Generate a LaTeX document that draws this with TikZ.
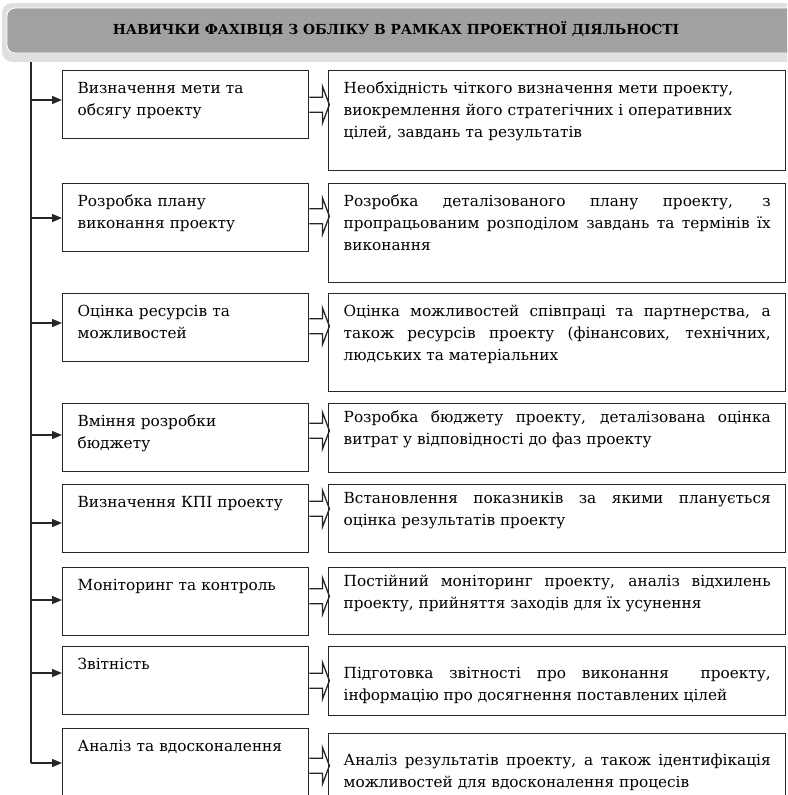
\documentclass[tikz,border=0pt]{standalone}
\usepackage{fontspec}
\setmainfont{DejaVu Serif}
\usetikzlibrary{arrows.meta,calc}
\hyphenpenalty=10000
\exhyphenpenalty=10000
\tikzstyle{lbox}=[draw=black!85, line width=1.4pt, anchor=north west, text width=216pt, align=left, inner xsep=15pt, inner ysep=10pt, text height=13pt, text depth=35pt, font=\fontsize{15.3}{22}\selectfont]
\tikzstyle{rbox}=[draw=black!85, line width=1.4pt, anchor=north west, text width=427pt, align=justify, inner xsep=15pt, inner ysep=10pt, font=\fontsize{15.3}{22}\selectfont]
\tikzstyle{feed}=[-{Triangle[length=10pt,width=8pt]}, line width=1.4pt, black!85]
\tikzstyle{dbl}=[line width=1.3pt, black!85]

\begin{document}
\begin{tikzpicture}[x=1pt,y=-1pt]
\useasboundingbox (0,0) rectangle (787,795);
\clip (0,0) rectangle (787,795);
% title bar
\fill[black!12, rounded corners=10pt] (2,3) rectangle (820,62);
\filldraw[fill=black!37, draw=white, line width=0.8pt, rounded corners=8pt] (7,8) rectangle (815,53);
\node[font=\fontsize{13.8}{16}\selectfont\bfseries] (title) at (396,29) {НАВИЧКИ ФАХІВЦЯ З ОБЛІКУ В РАМКАХ ПРОЕКТНОЇ ДІЯЛЬНОСТІ};
\coordinate (trunk) at (31,62);
\coordinate (foot) at (31,763);
\draw[line width=1.4pt, black!85] (trunk) -- (foot);

% skills
\node[lbox] (l1) at (62,70) {Визначення мети та\\обсягу проекту};
\node[lbox] (l2) at (62,183) {Розробка плану\\виконання проекту};
\node[lbox] (l3) at (62,293) {Оцінка ресурсів та\\можливостей};
\node[lbox] (l4) at (62,403) {Вміння розробки\\бюджету};
\node[lbox] (l5) at (62,484) {Визначення КПІ проекту};
\node[lbox] (l6) at (62,567) {Моніторинг та контроль};
\node[lbox] (l7) at (62,646) {Звітність};
\node[lbox, text depth=70pt] (l8) at (62,728) {Аналіз та вдосконалення};

% descriptions
\node[rbox, align=left, text height=13pt, text depth=67pt] (r1) at (328,70) {Необхідність чіткого визначення мети проекту,\\виокремлення його стратегічних і оперативних\\цілей, завдань та результатів};
\node[rbox, text height=13pt, text depth=66pt] (r2) at (328,183) {Розробка деталізованого плану проекту, з\linebreak пропрацьованим розподілом завдань та термінів їх\linebreak виконання};
\node[rbox, text height=13pt, text depth=65pt] (r3) at (328,293) {Оцінка можливостей співпраці та партнерства, а\linebreak також ресурсів проекту (фінансових, технічних,\linebreak людських та матеріальних};
\node[rbox, text height=9pt, text depth=40pt] (r4) at (328,403) {Розробка бюджету проекту, деталізована оцінка\linebreak витрат у відповідності до фаз проекту};
\node[rbox, text height=9pt, text depth=39pt] (r5) at (328,484) {Встановлення показників за якими планується\linebreak оцінка результатів проекту};
\node[rbox, text height=9pt, text depth=38pt] (r6) at (328,567) {Постійний моніторинг проекту, аналіз відхилень\linebreak проекту, прийняття заходів для їх усунення};
\node[rbox, text height=22pt, text depth=27pt] (r7) at (328,646) {Підготовка звітності про виконання \ проекту,\linebreak інформацію про досягнення поставлених цілей};
\node[rbox, text height=22pt, text depth=70pt] (r8) at (328,733) {Аналіз результатів проекту, а також ідентифікація\linebreak можливостей для вдосконалення процесів};

% arrows from the trunk
\foreach \i/\y in {1/100,2/218,3/323,4/435,5/523,6/600,7/673,8/763}
  \draw[feed] (trunk |- 0,\y) -- (l\i.west |- 0,\y);

% double arrows
\foreach \i/\dy in {1/0,2/-1.5,3/-1.5,4/-7,5/-10,6/-5.5,7/0,8/-14.5}
  \draw[dbl] ($(l\i.east)+(0,\dy)$) ++(0,-7.5) -- ++(13,0) -- ++(0,-11) -- ++(7,18.5) -- ++(-7,18.5) -- ++(0,-11) -- ++(-13,0);
\end{tikzpicture}
\end{document}
